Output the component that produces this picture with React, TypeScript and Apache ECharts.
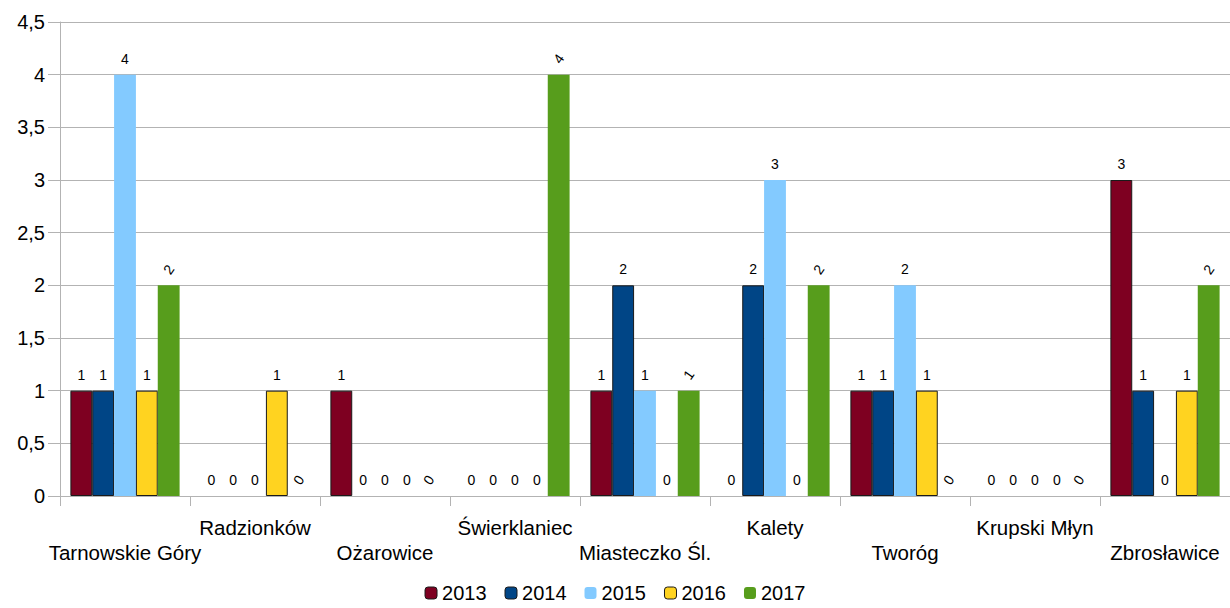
import React, { useEffect, useRef } from "react";
import * as echarts from "echarts";

const categories = [
  "Tarnowskie Góry",
  "Radzionków",
  "Ożarowice",
  "Świerklaniec",
  "Miasteczko Śl.",
  "Kalety",
  "Tworóg",
  "Krupski Młyn",
  "Zbrosławice",
];
const seriesNames = ["2013", "2014", "2015", "2016", "2017"];
const v2013 = [1, 0, 1, 0, 1, 0, 1, 0, 3];
const v2014 = [1, 0, 0, 0, 2, 2, 1, 0, 1];
const v2015 = [4, 0, 0, 0, 1, 3, 2, 0, 0];
const v2016 = [1, 1, 0, 0, 0, 0, 1, 0, 1];
const v2017 = [2, 0, 0, 4, 1, 2, 0, 0, 2];
const colors = ["#7E0021", "#004586", "#83CAFF", "#FFD320", "#579D1C"];
const bordered = [true, true, false, true, false];
const labelRotate = [0, 0, 0, 0, 55];

export default function App() {
  const ref = useRef<HTMLDivElement>(null);
  useEffect(() => {
    document.body.style.margin = "0";
    if (!ref.current) return;
    const chart = echarts.init(ref.current, undefined, { renderer: "svg" });
    const values = [v2013, v2014, v2015, v2016, v2017];
    chart.setOption({
      animation: false,
      textStyle: { fontFamily: "Liberation Sans" },
      legend: {
        bottom: 0,
        left: "center",
        itemWidth: 12,
        itemHeight: 12,
        itemGap: 18,
        textStyle: { fontSize: 20, color: "#000", fontFamily: "Liberation Sans" },
        data: seriesNames.map((n, k) => ({
          name: n,
          itemStyle: {
            color: colors[k],
            borderColor: bordered[k] ? "#1a1a1a" : colors[k],
            borderWidth: bordered[k] ? 1 : 0,
          },
        })),
      },
      grid: { left: 60, right: 0, top: 22, bottom: 112, containLabel: false },
      xAxis: {
        type: "category",
        data: categories,
        axisLine: { lineStyle: { color: "#b3b3b3", width: 1 } },
        axisTick: { show: true, length: 10, lineStyle: { color: "#b3b3b3" } },
        axisLabel: {
          interval: 0,
          margin: 19,
          fontSize: 20.5,
          lineHeight: 25,
          color: "#000",
          fontFamily: "Liberation Sans",
          formatter: (v: string, i: number) => (i % 2 === 0 ? "\n" + v : v),
        },
      },
      yAxis: {
        type: "value",
        min: 0,
        max: 4.5,
        interval: 0.5,
        axisLine: { show: true, lineStyle: { color: "#b3b3b3" } },
        axisTick: { show: true, length: 12, lineStyle: { color: "#b3b3b3" } },
        splitLine: { lineStyle: { color: "#b3b3b3" } },
        axisLabel: {
          fontSize: 20,
          color: "#000",
          margin: 15,
          fontFamily: "Liberation Sans",
          formatter: (v: number) => String(v).replace(".", ","),
        },
      },
      series: seriesNames.map((name, k) => ({
        name,
        type: "bar",
        data: values[k].map((v) => ({
          value: v,
          itemStyle:
            v === 0
              ? { borderWidth: 0, color: "transparent" }
              : undefined,
        })),
        barGap: "0%",
        barCategoryGap: "16%",
        itemStyle: {
          color: colors[k],
          borderColor: bordered[k] ? "#1a1a1a" : colors[k],
          borderWidth: bordered[k] ? 1 : 0,
        },
        label: {
          show: true,
          position: "top",
          distance: 16,
          align: "center",
          verticalAlign: "middle",
          fontSize: 14,
          color: "#000",
          rotate: labelRotate[k],
          fontFamily: "Liberation Sans",
        },
      })),
    });
    return () => chart.dispose();
  }, []);
  return <div ref={ref} style={{ width: 1230, height: 608 }} />;
}
